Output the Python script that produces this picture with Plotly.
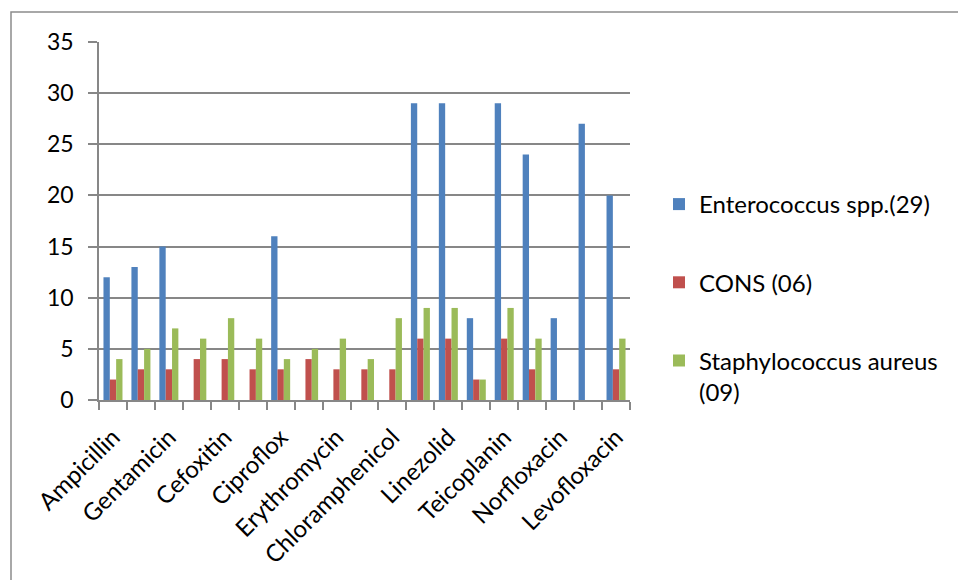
import plotly.graph_objects as go

# Susceptible isolates per antibiotic (19 drug groups, labels shown on every other group)
tick_labels = ["Ampicillin", "Gentamicin", "Cefoxitin", "Ciproflox", "Erythromycin",
               "Chloramphenicol", "Linezolid", "Teicoplanin", "Norfloxacin", "Levofloxacin"]
enterococcus = [12, 13, 15, 0, 0, 0, 16, 0, 0, 0, 0, 29, 29, 8, 29, 24, 8, 27, 20]
cons = [2, 3, 3, 4, 4, 3, 3, 4, 3, 3, 3, 6, 6, 2, 6, 3, 0, 0, 3]
staph_aureus = [4, 5, 7, 6, 8, 6, 4, 5, 6, 4, 8, 9, 9, 2, 9, 6, 0, 0, 6]

series_names = ["Enterococcus spp.(29)", "CONS (06)", "Staphylococcus aureus<br>(09)"]
series_values = [enterococcus, cons, staph_aureus]
series_colors = ["#4F81BD", "#C0504D", "#9BBB59"]

n_groups = len(enterococcus)
group_x = list(range(n_groups))

FONT = "Lato, 'Open Sans', sans-serif"
GRID = "#878787"

fig = go.Figure()
for i, (name, vals, col) in enumerate(zip(series_names, series_values, series_colors)):
    fig.add_trace(go.Bar(
        x=group_x, y=vals, name=name, legendgroup=f"g{i}",
        marker=dict(color=col, line=dict(width=0)),
    ))

# plot area in pixels
W, H = 958, 580
L, R, T, B = 99, 630, 42, 400
pw, ph = R - L, B - T

def px_to_paper_x(px):
    return (px - L) / pw

def px_to_paper_y(py):
    return (B - py) / ph

fig.update_layout(
    width=W, height=H,
    margin=dict(l=L, r=W - R, t=T, b=H - B, pad=0),
    paper_bgcolor="white", plot_bgcolor="white",
    barmode="group", bargap=0.32, bargroupgap=0,
    font=dict(family=FONT, size=24, color="#000000"),
    showlegend=True,
    legend=dict(
        x=px_to_paper_x(659), y=px_to_paper_y(182), xanchor="left", yanchor="top",
        font=dict(family=FONT, size=24, color="#000000"),
        tracegroupgap=44, valign="top", bgcolor="rgba(0,0,0,0)",
    ),
    xaxis=dict(
        range=[-0.5, n_groups - 0.5],
        tickmode="array",
        tickvals=group_x[::2],
        ticktext=tick_labels,
        tickangle=-45,
        ticks="",
        showgrid=False, zeroline=False,
        showline=True, linecolor=GRID, linewidth=1.5,
        tickfont=dict(family=FONT, size=24, color="#000000"),
        ticklabelstandoff=12,
        minor=dict(
            tickmode="array",
            tickvals=[k - 0.5 for k in range(n_groups + 1)],
            ticks="outside", ticklen=8, tickwidth=1.5, tickcolor=GRID,
            showgrid=False,
        ),
        fixedrange=True,
    ),
    yaxis=dict(
        range=[0, 35],
        tickmode="array",
        tickvals=[0, 5, 10, 15, 20, 25, 30, 35],
        ticks="outside", ticklen=9, tickwidth=1.5, tickcolor=GRID,
        showgrid=True, gridcolor=GRID, gridwidth=1.5,
        zeroline=False,
        showline=True, linecolor=GRID, linewidth=1.5,
        tickfont=dict(family=FONT, size=23, color="#000000"),
        ticklabelstandoff=10,
        fixedrange=True,
    ),
    shapes=[dict(
        type="rect", xref="paper", yref="paper",
        x0=px_to_paper_x(11), x1=px_to_paper_x(1000),
        y0=px_to_paper_y(640), y1=px_to_paper_y(12),
        line=dict(color="#8C8C8C", width=1.5), fillcolor="rgba(0,0,0,0)",
        layer="below",
    )],
)

fig.write_html("out.html")
